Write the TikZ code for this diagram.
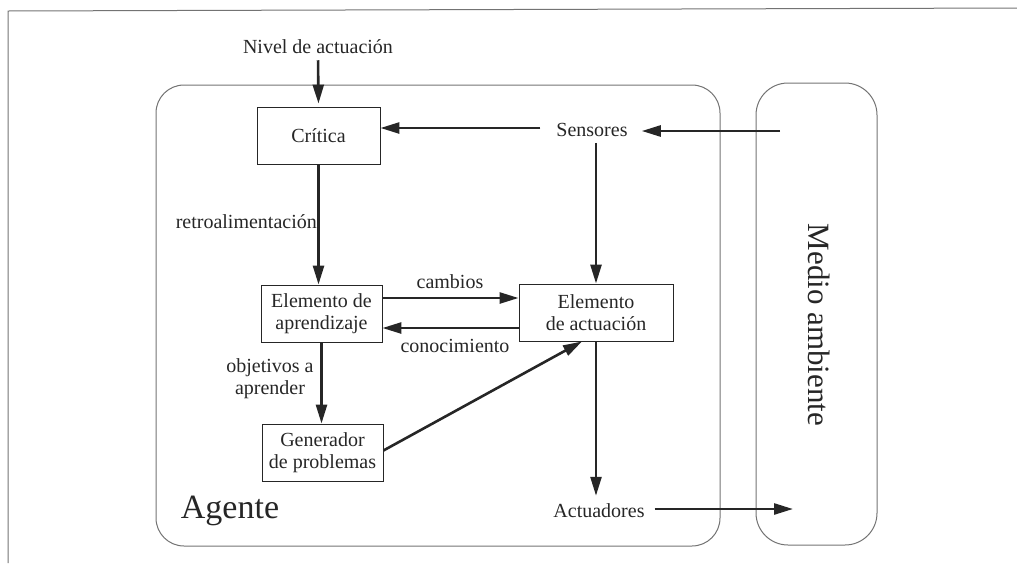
\documentclass[tikz,border=0pt]{standalone}
\usepackage{fontspec}
\setmainfont{Liberation Serif}
\usetikzlibrary{arrows.meta}
\definecolor{ink}{gray}{0.15}
\definecolor{frame}{gray}{0.45}
\tikzset{
  arr/.style={draw=ink, line width=2.6pt, -{Triangle[length=19pt,width=11pt]}},
  boxnode/.style={draw=ink, line width=0.9pt, align=center, inner sep=2pt, text=ink},
  lbl/.style={text=ink, align=center, inner sep=2pt},
  zone/.style={draw=frame, line width=1pt},
}
\begin{document}
\begin{tikzpicture}[x=1pt,y=-1pt, font=\fontsize{20}{22}\selectfont]
\useasboundingbox (0,0) rectangle (1017,563);
% page frame
\draw[frame, line width=1pt] (8,563) -- (8,11) -- (1017,8);
% regions
\draw[zone, rounded corners=28pt] (156,85) rectangle (720,546);
\draw[zone, rounded corners=32pt] (756,83) rectangle (877,545);
% nodes
\node[lbl] (nivel) at (318,47) {Nivel de actuación};
\node[boxnode, minimum width=123pt, minimum height=57pt] (critica) at (318.5,135.5) {Crítica};
\node[lbl] (sensores) at (592,130) {Sensores};
\node[boxnode, minimum width=121pt, minimum height=57pt] (aprend) at (321.5,313.5) {Elemento de\\aprendizaje};
\node[boxnode, minimum width=154pt, minimum height=57pt] (actua) at (596,312.5) {Elemento\\de actuación};
\node[boxnode, minimum width=121pt, minimum height=57pt] (gen) at (322.5,452.5) {Generador\\de problemas};
\node[lbl] (actuadores) at (599,511) {Actuadores};
\node[lbl, font=\fontsize{34}{36}\selectfont] (agente) at (230,511) {Agente};
\node[lbl, font=\fontsize{31}{34}\selectfont, rotate=-90] (medio) at (819,325) {Medio ambiente};
\coordinate (envin) at (780,131);
\coordinate (envout) at (793,509);
% connectors
\draw[arr, shorten <=4pt, shorten >=3pt] (nivel.south) -- (critica.north);
\draw[arr, shorten <=14pt] ([yshift=2pt]sensores.west) -- ([yshift=2pt]sensores.west -| critica.east);
\draw[arr, shorten >=12pt] (envin) -- (envin -| sensores.east);
\draw[arr, shorten <=4pt] (sensores.south -| actua.north) -- (actua.north);
\draw[arr] (critica.south) -- (critica.south |- aprend.north);
\draw[arr] ([yshift=15.5pt]aprend.east) -- ([yshift=15.5pt]aprend.east -| actua.west);
\draw[arr] ([yshift=-15.5pt]actua.west) -- ([yshift=-15.5pt]actua.west -| aprend.east);
\draw[arr] (aprend.south) -- (aprend.south |- gen.north);
\draw[arr] ([yshift=2pt]gen.east) -- ([xshift=-14pt]actua.south);
\draw[arr, shorten >=6pt] (actua.south) -- (actua.south |- actuadores.north);
\draw[arr, shorten <=8pt] ([yshift=2pt]actuadores.east) -- (envout);
% connector labels
\node[lbl] (cambios) at (450,282) {cambios};
\node[lbl] (conoc) at (455,346) {conocimiento};
\node[lbl, anchor=east, inner sep=0pt] (retro) at (317,222) {retroalimentación};
\node[lbl] (objetivos) at (270,379) {objetivos a\\aprender};
\end{tikzpicture}
\end{document}
